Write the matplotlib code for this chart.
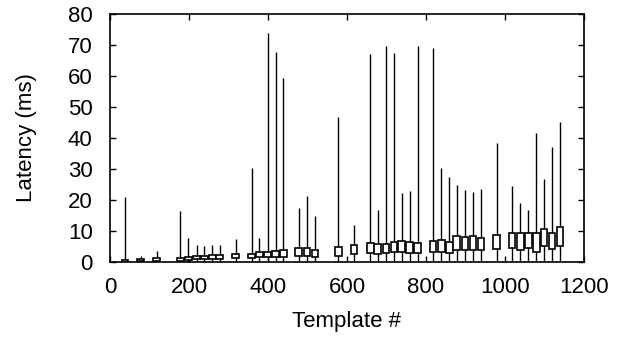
import matplotlib
matplotlib.use("Agg")
import matplotlib.pyplot as plt

templates = [38, 78, 118, 178, 198, 219, 239, 259, 278, 318, 359, 378, 399, 419, 439,
             478, 499, 519, 578, 618, 659, 678, 699, 719, 738, 759, 779, 818, 839, 859,
             878, 899, 919, 939, 979, 1018, 1039, 1059, 1079, 1099, 1119, 1139]
lat_max = [21.0, 2.0, 3.5, 16.4, 7.7, 5.5, 5.1, 5.5, 5.4, 7.4, 30.2, 7.7, 73.8, 67.8, 59.3,
           17.4, 21.3, 14.7, 46.8, 12.0, 67.2, 16.8, 69.6, 67.4, 22.2, 23.0, 69.6, 69.0, 30.4, 27.5,
           24.8, 23.2, 22.7, 23.7, 38.5, 24.5, 18.9, 16.8, 41.5, 26.7, 37.2, 45.2]
q_low = [0.0, 0.2, 0.3, 0.4, 0.6, 0.9, 0.9, 1.1, 1.1, 1.3, 1.3, 1.5, 1.6, 1.6, 1.6,
         1.9, 2.0, 1.5, 1.8, 2.5, 2.9, 2.7, 3.0, 3.2, 3.1, 3.0, 3.0, 3.2, 3.1, 3.0,
         4.0, 3.8, 3.8, 3.8, 4.1, 4.6, 3.9, 4.4, 3.2, 5.1, 4.2, 5.1]
q_high = [0.5, 1.0, 1.2, 1.4, 1.6, 1.8, 1.8, 2.1, 2.4, 2.7, 2.7, 3.1, 3.2, 3.5, 3.9,
          4.5, 4.5, 3.8, 4.7, 5.5, 6.1, 5.9, 5.9, 6.6, 6.7, 6.5, 6.2, 6.9, 7.0, 6.4,
          8.4, 8.1, 8.4, 7.7, 8.7, 9.3, 9.5, 9.3, 9.2, 10.8, 9.4, 11.3]
lat_min = [0.0] * len(templates)

xticks = [0, 200, 400, 600, 800, 1000, 1200]
yticks = [0, 10, 20, 30, 40, 50, 60, 70, 80]

plt.rcParams['font.family'] = ['Liberation Sans', 'DejaVu Sans']
fig = plt.figure(figsize=(6.28, 3.37), dpi=100)
ax = fig.add_axes([110 / 628, (337 - 262) / 337, (584 - 110) / 628, (262 - 14) / 337])

ax.vlines(templates, lat_min, lat_max, colors='black', linewidth=1.0, zorder=2)
heights = [h - l for h, l in zip(q_high, q_low)]
ax.bar(templates, heights, bottom=q_low, width=17, facecolor='white',
       edgecolor='black', linewidth=1.2, zorder=3)

ax.set_xlim(0, 1200)
ax.set_ylim(0, 80)
ax.set_xticks(xticks)
ax.set_yticks(yticks)
ax.tick_params(direction='in', length=4, width=1, top=True, right=True, labelsize=16)
ax.tick_params(axis='x', pad=10.5)
ax.tick_params(axis='y', pad=12.5)
for s in ax.spines.values():
    s.set_linewidth(1.2)
ax.set_xlabel('Template #', fontsize=16, labelpad=10)
ax.set_ylabel('Latency (ms)', fontsize=16, labelpad=22)

fig.savefig('out.png', dpi=100)
